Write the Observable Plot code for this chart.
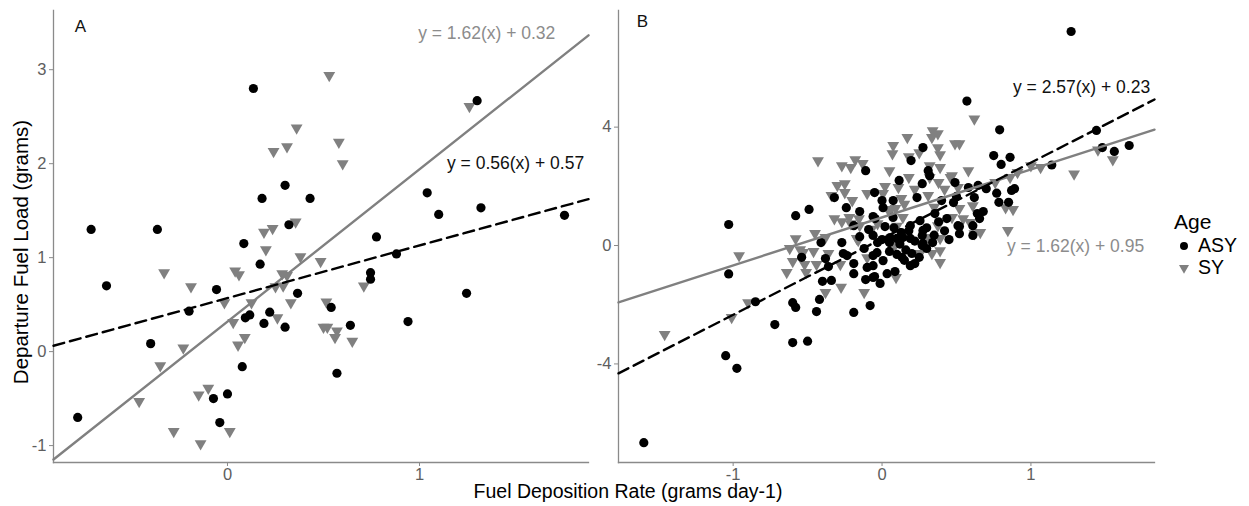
<!DOCTYPE html>
<html><head><meta charset="utf-8">
<script src="https://cdn.jsdelivr.net/npm/d3@7"></script>
<script src="https://cdn.jsdelivr.net/npm/@observablehq/plot@0.6"></script>
<style>
body{margin:0;background:#fff;width:1249px;height:506px;position:relative;overflow:hidden;font-family:"Liberation Sans",Arial,sans-serif;}
.abs{position:absolute;white-space:nowrap;line-height:1;}
g[aria-label$="tick label"], g[aria-label$="tick label"] text{font-size:16.5px !important;}
</style></head><body>
<div id="pa" class="abs" style="left:0;top:0"></div>
<div id="pb" class="abs" style="left:580px;top:0"></div>
<div class="abs" style="left:21px;top:252px;transform:translate(-50%,-50%) rotate(-90deg);font-size:20.5px;color:#000">Departure Fuel Load (grams)</div>
<div class="abs" style="left:628px;top:492px;transform:translate(-50%,-50%);font-size:19.5px;color:#000">Fuel Deposition Rate (grams day-1)</div>
<div id="legend" class="abs" style="left:1174px;top:211px"></div>
<script>
// ---------- data ----------
const ages = ["ASY", "SY"];
const ageColors = ["#000000", "#808080"];

// Panel A
const panelA_ASY = [[-0.78,-0.70],[-0.71,1.30],[-0.63,0.70],[-0.40,0.085],[-0.365,1.30],[-0.20,0.43],[-0.073,-0.50],[-0.057,0.66],[-0.04,-0.755],[0.0,-0.45],[0.077,-0.16],[0.085,1.15],[0.093,0.36],[0.116,0.39],[0.135,2.80],[0.17,0.93],[0.18,1.63],[0.19,0.30],[0.22,0.42],[0.30,1.77],[0.30,0.26],[0.32,1.35],[0.365,0.62],[0.43,1.63],[0.54,0.47],[0.57,-0.23],[0.64,0.28],[0.745,0.84],[0.745,0.77],[0.776,1.22],[0.88,1.04],[0.94,0.32],[1.04,1.69],[1.10,1.46],[1.245,0.62],[1.30,2.67],[1.32,1.53],[1.755,1.45]];
const panelA_SY = [[-0.46,-0.53],[-0.35,-0.15],[-0.33,0.84],[-0.28,-0.85],[-0.23,0.04],[-0.19,0.69],[-0.15,-0.46],[-0.14,-0.98],[-0.10,-0.39],[-0.016,0.52],[0.012,-0.85],[0.03,0.31],[0.04,0.86],[0.055,0.07],[0.06,0.82],[0.09,0.15],[0.125,0.52],[0.19,1.27],[0.20,1.085],[0.235,1.31],[0.24,2.13],[0.25,0.69],[0.26,0.36],[0.285,0.83],[0.29,0.70],[0.31,2.18],[0.31,0.81],[0.33,0.52],[0.355,1.38],[0.36,2.38],[0.38,1.01],[0.485,0.96],[0.50,0.26],[0.515,0.53],[0.52,0.26],[0.53,2.94],[0.56,0.15],[0.57,0.22],[0.58,2.23],[0.60,2.00],[0.65,0.11],[0.71,0.70],[1.26,2.61]];
const fitsA_slope = [0.56, 1.62];      // ASY, SY
const fitsA_intercept = [0.57, 0.32];

// Panel B
const panelB_ASY = [[-1.60,-6.66],[-1.05,-3.72],[-1.03,0.71],[-1.03,-0.96],[-0.975,-4.15],[-0.85,-1.90],[-0.72,-2.67],[-0.60,-1.93],[-0.58,-2.09],[-0.60,-3.28],[-0.50,-3.23],[-0.58,1.01],[-0.54,-0.40],[-0.49,1.22],[-0.44,-2.23],[-0.42,-1.82],[-0.41,0.10],[-0.40,-1.21],[-0.38,-0.44],[-0.36,-0.71],[-0.34,-1.18],[-0.32,1.62],[-0.27,0.10],[-0.26,-0.27],[-0.235,-0.34],[-0.24,1.28],[-0.19,-0.95],[-0.19,-0.61],[-0.19,-2.26],[-0.19,0.67],[-0.15,1.15],[-0.11,2.53],[-0.11,-1.15],[-0.10,-0.74],[-0.09,0.54],[-0.08,-2.03],[-0.06,0.98],[-0.06,-0.68],[-0.06,0.34],[-0.05,1.79],[-0.05,-1.05],[-0.047,0.91],[-0.034,-0.24],[-0.06,-0.34],[-0.013,-1.28],[-0.06,-1.08],[-0.03,0.10],[0.0,1.52],[0.007,1.28],[0.007,-0.51],[0.02,0.64],[0.034,-0.95],[0.054,0.27],[0.05,0.10],[0.075,1.52],[0.074,0.95],[0.087,-0.88],[0.10,0.24],[0.115,2.2],[0.13,0.44],[0.134,-0.40],[0.14,0.27],[0.19,0.67],[0.19,0.24],[0.19,-0.68],[0.195,2.87],[0.20,-0.27],[0.22,-0.61],[0.235,1.62],[0.255,0.84],[0.27,2.09],[0.27,0.34],[0.27,0.0],[0.275,3.31],[0.275,0.07],[0.275,0.51],[0.31,2.53],[0.32,2.36],[0.34,0.10],[0.355,1.08],[0.40,1.52],[0.435,0.91],[0.48,1.45],[0.49,2.13],[0.50,1.66],[0.51,0.67],[0.52,0.64],[0.52,0.40],[0.57,4.88],[0.58,1.96],[0.61,0.67],[0.61,0.34],[0.62,1.62],[0.64,1.08],[0.645,2.03],[0.655,0.91],[0.68,1.15],[0.70,1.92],[0.75,3.04],[0.77,1.77],[0.785,1.46],[0.79,3.91],[0.80,2.74],[0.85,1.46],[0.86,2.98],[0.87,1.86],[0.89,1.92],[1.14,2.72],[1.27,7.23],[1.44,3.89],[1.48,3.31],[1.56,3.18],[1.66,3.38],[0.05,-0.2],[0.12,0.05],[0.16,-0.15],[0.25,-0.4],[0.30,-0.1],[0.08,0.6],[0.18,0.5],[0.35,0.35],[0.42,0.5],[0.45,0.2],[0.15,-0.5],[0.0,0.2],[-0.15,0.3],[-0.12,-0.1],[0.22,0.15],[0.38,0.8],[0.1,-0.3],[0.3,0.6]];
const panelB_SY = [[-1.46,-3.0],[-1.01,-2.43],[-0.96,-0.34],[-0.90,-1.93],[-0.64,-0.91],[-0.62,-0.10],[-0.60,-0.54],[-0.58,0.23],[-0.55,-0.14],[-0.53,-0.23],[-0.52,-0.64],[-0.51,-0.91],[-0.46,-0.20],[-0.45,0.41],[-0.44,-0.64],[-0.43,2.87],[-0.38,-1.58],[-0.38,0.27],[-0.36,-0.27],[-0.34,1.69],[-0.32,0.91],[-0.30,2.03],[-0.28,-0.64],[-0.275,-1.41],[-0.27,2.70],[-0.27,0.81],[-0.25,2.09],[-0.25,1.79],[-0.22,0.95],[-0.21,2.64],[-0.21,0.74],[-0.20,1.52],[-0.18,2.90],[-0.16,0.17],[-0.155,0.91],[-0.15,0.67],[-0.13,2.77],[-0.12,-1.58],[-0.10,1.76],[-0.10,-0.41],[-0.17,0.24],[-0.03,0.74],[0.007,1.76],[0.04,1.22],[0.05,2.53],[0.054,1.18],[0.07,3.1],[0.075,3.38],[0.087,0.0],[0.09,1.25],[0.094,-1.08],[0.11,1.96],[0.13,1.59],[0.14,0.95],[0.17,3.65],[0.18,3.0],[0.18,2.3],[0.25,3.14],[0.255,-0.27],[0.31,1.69],[0.31,0.27],[0.32,2.70],[0.32,2.3],[0.335,3.65],[0.335,-0.27],[0.34,3.88],[0.375,3.78],[0.375,3.31],[0.375,0.67],[0.38,2.13],[0.39,3.07],[0.39,2.64],[0.39,0.24],[0.39,-0.57],[0.39,-0.17],[0.46,2.3],[0.47,2.36],[0.49,3.44],[0.51,1.96],[0.52,3.44],[0.52,1.25],[0.545,0.91],[0.58,2.53],[0.59,0.78],[0.61,1.35],[0.62,4.28],[0.62,0.40],[0.66,0.44],[0.76,2.13],[0.83,1.28],[0.845,0.51],[0.86,2.30],[0.88,1.22],[0.91,2.47],[1.0,2.70],[1.065,2.64],[1.29,2.42],[1.45,3.23],[1.55,2.90],[0.02,2.0],[0.22,1.9],[0.42,1.9],[0.15,1.4],[0.35,1.3],[0.47,0.95],[-0.07,0.55],[0.1,0.65]];
const fitsB_slope = [2.57, 1.62];      // ASY, SY
const fitsB_intercept = [0.23, 0.95];

const xTicksA = [0, 1], yTicksA = [-1, 0, 1, 2, 3];
const xTicksB = [-1, 0, 1], yTicksB = [-4, 0, 4];

// ---------- drawing ----------
const axisColor = "#8a8a8a", tickText = "#5e5e5e";

function panel(cfg) {
  const pts = [
    ...cfg.sy.map(([x, y]) => ({x, y, age: "SY"})),
    ...cfg.asy.map(([x, y]) => ({x, y, age: "ASY"}))
  ];
  const fits = ages.map((age, i) => ({age, slope: cfg.slope[i], intercept: cfg.intercept[i]}));
  const lineData = fits.flatMap(f => cfg.xDomain.map(x => ({age: f.age, x, y: f.slope * x + f.intercept})));
  const eqs = fits.map((f, i) => ({
    label: `y = ${f.slope.toFixed(2)}(x) + ${f.intercept.toFixed(2)}`,
    x: cfg.eqPos[i][0], y: cfg.eqPos[i][1], color: f.age === "ASY" ? "#111" : "#8c8c8c"
  }));
  return Plot.plot({
    width: cfg.width, height: 506,
    marginLeft: cfg.ml, marginRight: cfg.mr, marginTop: 10, marginBottom: 44,
    style: {fontFamily: '"Liberation Sans", Arial, sans-serif', fontSize: "16.5px", background: "transparent", overflow: "visible"},
    x: {domain: cfg.xDomain},
    y: {domain: cfg.yDomain},
    marks: [
      Plot.axisX({ticks: cfg.xTicks, tickFormat: d => String(d), tickSize: 4, tickPadding: 2, label: null, stroke: axisColor, color: tickText, fontSize: 16.5}),
      Plot.axisY({ticks: cfg.yTicks, tickFormat: d => String(d), tickSize: 4, tickPadding: 3, label: null, stroke: axisColor, color: tickText, fontSize: 16.5}),
      Plot.frame({anchor: "left", stroke: axisColor, strokeWidth: 1.3}),
      Plot.frame({anchor: "bottom", stroke: axisColor, strokeWidth: 1.3}),
      Plot.dot(pts.filter(d => d.age === "SY"), {x: "x", y: "y", symbol: "triangle", rotate: 180, r: 4.4, fill: ageColors[1], stroke: "none"}),
      Plot.dot(pts.filter(d => d.age === "ASY"), {x: "x", y: "y", symbol: "circle", r: 4.6, fill: ageColors[0], stroke: "none"}),
      Plot.line(lineData.filter(d => d.age === "SY"), {x: "x", y: "y", stroke: ageColors[1], strokeWidth: 2.4}),
      Plot.line(lineData.filter(d => d.age === "ASY"), {x: "x", y: "y", stroke: "#000", strokeWidth: 2.4, strokeDasharray: "11,6"}),
      Plot.text(eqs, {x: "x", y: "y", text: "label", fill: "color", fontSize: 17.5}),
      Plot.text([cfg.tag], {frameAnchor: "top-left", lineAnchor: "middle", textAnchor: "middle", dx: cfg.tagDx, dy: cfg.tagDy, fontSize: 17, fill: "#111"})
    ]
  });
}

document.getElementById("pa").append(panel({
  width: 595, ml: 53, mr: 7,
  xDomain: [-0.906, 1.88], yDomain: [-1.18, 3.63],
  xTicks: xTicksA, yTicks: yTicksA,
  asy: panelA_ASY, sy: panelA_SY, slope: fitsA_slope, intercept: fitsA_intercept,
  eqPos: [[1.50, 2.00], [1.35, 3.39]], tag: "A", tagDx: 27, tagDy: 16
}));

document.getElementById("pb").append(panel({
  width: 585, ml: 38, mr: 11,
  xDomain: [-1.77, 1.83], yDomain: [-7.33, 7.94],
  xTicks: xTicksB, yTicks: yTicksB,
  asy: panelB_ASY, sy: panelB_SY, slope: fitsB_slope, intercept: fitsB_intercept,
  eqPos: [[1.34, 5.34], [1.30, -0.03]], tag: "B", tagDx: 24, tagDy: 11
}));

// legend
const leg = d3.select("#legend");
leg.append("div").text("Age").style("font-size", "21px").style("color", "#000").style("margin-bottom", "3px");
ages.forEach((a, i) => {
  const row = leg.append("div").style("display", "flex").style("align-items", "center").style("height", "22px");
  const svg = row.append("svg").attr("width", 20).attr("height", 20);
  const sym = i === 0 ? d3.symbol(d3.symbolCircle, 50) : d3.symbol(d3.symbolTriangle, 44);
  svg.append("path").attr("d", sym()).attr("fill", ageColors[i])
    .attr("transform", `translate(10,10) rotate(${i === 0 ? 0 : 180})`);
  row.append("span").text(a).style("font-size", "19.5px").style("margin-left", "4px").style("color", "#000");
});
</script>
</body></html>
